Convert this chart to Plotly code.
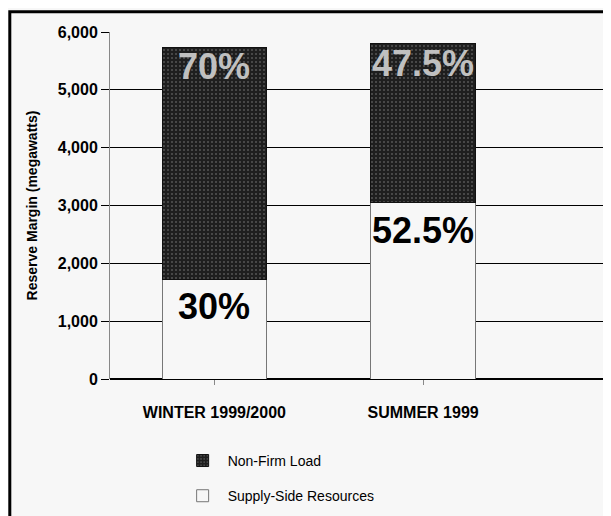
import plotly.graph_objects as go

# data
seasons = ['WINTER 1999/2000', 'SUMMER 1999']
supply_side = [1722, 3045]
non_firm = [4018, 2755]
totals = [s + n for s, n in zip(supply_side, non_firm)]
y_ticks = [0, 1000, 2000, 3000, 4000, 5000, 6000]

font_family = 'Liberation Sans, Arial, sans-serif'
bg = '#f7f7f7'


def pct_label(part, whole):
    return f'{round(part / whole * 100, 1):g}%'


fig = go.Figure()

fig.add_trace(go.Bar(
    x=seasons, y=supply_side, name='Supply-Side Resources',
    legendgroup='supply', legendrank=2,
    marker=dict(color=bg, line=dict(color='#777', width=1)),
    width=0.5,
))
fig.add_trace(go.Bar(
    x=seasons, y=non_firm, name='Non-Firm Load',
    legendgroup='nonfirm', legendrank=1,
    marker=dict(color='#1e1e1e', line=dict(color='#111', width=1),
                pattern=dict(shape='.', fgcolor='#8a8a8a', bgcolor='#1e1e1e',
                             size=4, solidity=0.2)),
    width=0.5,
))

# percentage labels on each segment
for i, s in enumerate(seasons):
    fig.add_annotation(x=s, y=supply_side[i], yanchor='top', yshift=-5,
                       text=pct_label(supply_side[i], totals[i]), showarrow=False,
                       font=dict(size=36, color='black', family=font_family, weight='bold'))
    fig.add_annotation(x=s, y=totals[i], yanchor='top', yshift=3,
                       text=pct_label(non_firm[i], totals[i]), showarrow=False,
                       font=dict(size=36, color='#c0c0c0', family=font_family, weight='bold'))

# outer frame
fig.add_shape(type='rect', xref='paper', yref='paper',
              x0=-0.2, x1=1.2, y0=-0.6, y1=1.058,
              line=dict(color='black', width=3), fillcolor='rgba(0,0,0,0)')

# page body has an 8px margin, so the figure is 603x508
fig.update_layout(
    barmode='stack',
    width=603, height=508,
    margin=dict(l=102, r=0, t=24, b=137, autoexpand=False),
    paper_bgcolor=bg, plot_bgcolor=bg,
    font=dict(family=font_family, color='black'),
    showlegend=True,
    legend=dict(x=0.135, y=-0.19, xanchor='left', yanchor='top',
                bgcolor='rgba(0,0,0,0)', font=dict(size=14),
                itemwidth=40, tracegroupgap=14),
)

fig.update_yaxes(
    range=[0, 6000], tickvals=y_ticks, tickformat=',',
    tickfont=dict(size=16, weight='bold'),
    ticks='outside', ticklen=8, tickcolor='black',
    showgrid=True, gridcolor='black', gridwidth=1,
    showline=True, linecolor='#888', linewidth=1,
    zeroline=True, zerolinecolor='black',
    automargin=False,
    title=dict(text='Reserve Margin (megawatts)',
               font=dict(size=14, weight='bold'), standoff=16),
)
fig.update_xaxes(
    range=[-0.5, 1.9],
    tickfont=dict(size=16, weight='bold'),
    ticks='outside', ticklen=5, tickcolor='#888',
    ticklabelstandoff=14,
    showline=False,
    automargin=False,
)

fig.write_html('out.html')
